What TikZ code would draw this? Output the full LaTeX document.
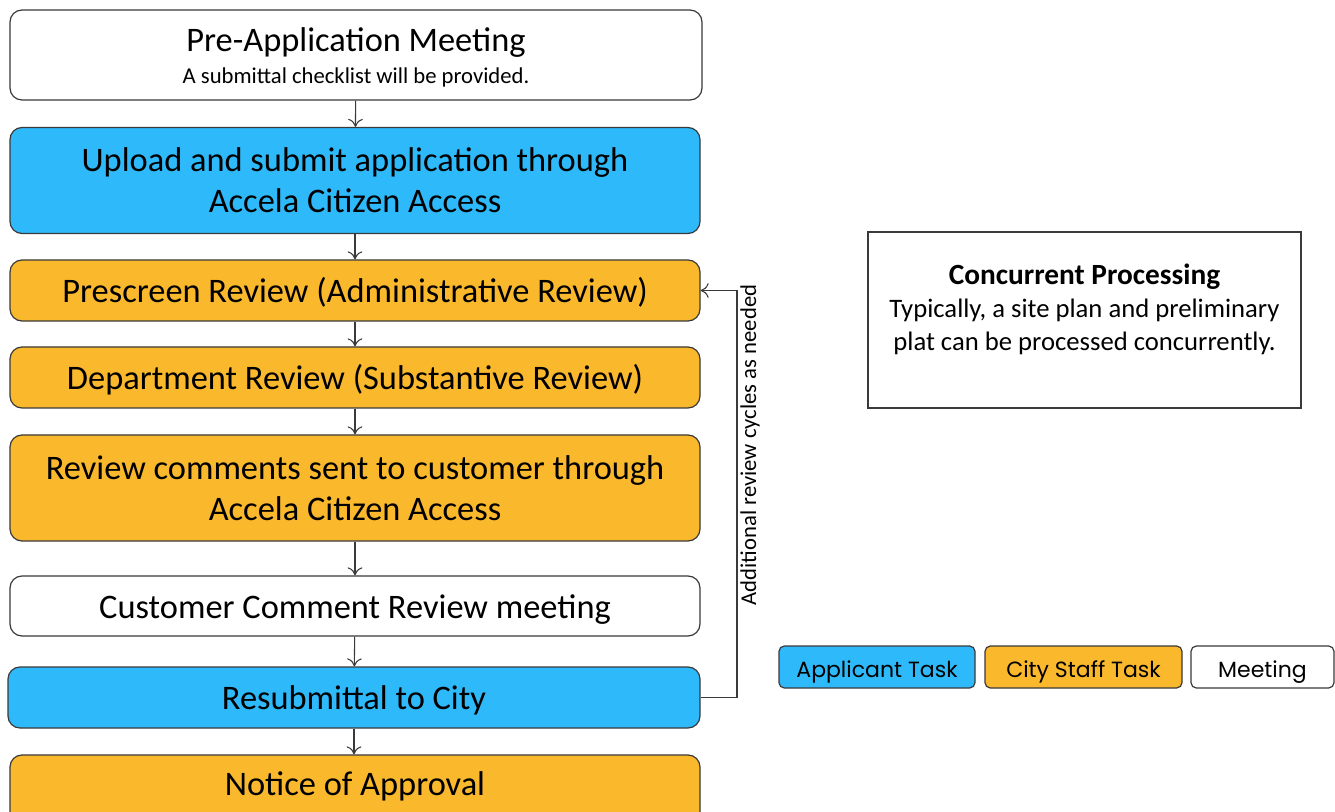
\documentclass[tikz,border=0pt]{standalone}
\usepackage{fontspec}
\usetikzlibrary{arrows.meta}
\setmainfont{Carlito}
\newfontfamily\legendfont{Poppins}
\definecolor{appblue}{HTML}{2EB9FA}
\definecolor{staffor}{HTML}{FAB82C}
\definecolor{edgegray}{HTML}{3A3A3A}
\tikzset{
  stepbox/.style={draw=edgegray, line width=0.9pt, rounded corners=9pt, minimum width=690*0.75pt, align=center, inner sep=0pt, font=\fontsize{25.8}{30.75}\selectfont},
  oneline/.style={text height=18pt, text depth=0pt},
  appl/.style={stepbox, fill=appblue},
  staff/.style={stepbox, fill=staffor},
  meet/.style={stepbox, fill=white},
  flow/.style={draw=edgegray, line width=0.8pt, -{To[length=6pt,width=11pt]}},
  legbox/.style={draw=edgegray, line width=0.9pt, rounded corners=4pt, inner sep=0pt, minimum height=42*0.75pt, text height=15.5pt, text depth=0pt, font=\legendfont\fontsize{16.5}{18}\selectfont},
}
\begin{document}
\begin{tikzpicture}[x=0.75pt,y=-0.75pt]
\clip (0,0) rectangle (1335,812);
\useasboundingbox (0,0) rectangle (1335,812);
\fill[white] (0,0) rectangle (1335,812);

\node[meet, minimum width=692*0.75pt, minimum height=90*0.75pt] (pre) at (356,55) {};
\node (pretitle) at (356,43) {\fontsize{25.8}{30}\selectfont Pre-Application Meeting};
\node (presub) at (356,77) {\fontsize{17}{20}\selectfont A submittal checklist will be provided.};

\node[appl, minimum height=106*0.75pt] (upload) at (355,180.5) {Upload and submit application through\\Accela Citizen Access};
\node[staff, oneline, minimum height=61*0.75pt] (prescreen) at (355,290.5) {Prescreen Review (Administrative Review)};
\node[staff, oneline, minimum height=61*0.75pt] (dept) at (355,377.5) {Department Review (Substantive Review)};
\node[staff, minimum height=106*0.75pt] (comments) at (355,488) {Review comments sent to customer through\\Accela Citizen Access};
\node[meet, oneline, minimum height=60*0.75pt] (custmeet) at (355,606) {Customer Comment Review meeting};
\node[appl, oneline, minimum width=692*0.75pt, minimum height=61*0.75pt] (resub) at (354,697.5) {Resubmittal to City};
\node[staff, minimum height=70*0.75pt] (approval) at (355,790) {};
\node (apptext) at (355,786) {\fontsize{25.8}{30}\selectfont Notice of Approval};

\draw[flow] (pre) -- (upload);
\draw[flow] (upload) -- (prescreen);
\draw[flow] (prescreen) -- (dept);
\draw[flow] (dept) -- (comments);
\draw[flow] (comments) -- (custmeet);
\draw[flow] (custmeet) -- (resub);
\draw[flow] (resub) -- (approval.north -| resub);

\coordinate (loopx) at (737,0);
\draw[flow] (resub.east) -- (resub.east -| loopx) -- (prescreen.east -| loopx) -- (prescreen.east);
\node[rotate=90, font=\fontsize{17}{20}\selectfont] (looplabel) at (750,445) {Additional review cycles as needed};

\node[draw=edgegray, line width=0.9pt, minimum width=433*0.75pt, minimum height=176*0.75pt, inner sep=0pt] (conc) at (1084.5,320) {};
\node[align=center, font=\fontsize{20}{24.75}\selectfont] (conctext) at (1084.5,309) {{\fontsize{22}{24.75}\selectfont\textbf{Concurrent Processing}}\\Typically, a site plan and preliminary\\plat can be processed concurrently.};

\node[legbox, fill=appblue, minimum width=196*0.75pt] (legA) at (877,667) {Applicant Task};
\node[legbox, fill=staffor, minimum width=197*0.75pt] (legS) at (1083.5,667) {City Staff Task};
\node[legbox, fill=white, minimum width=143*0.75pt] (legM) at (1262.5,667) {Meeting};
\end{tikzpicture}
\end{document}
